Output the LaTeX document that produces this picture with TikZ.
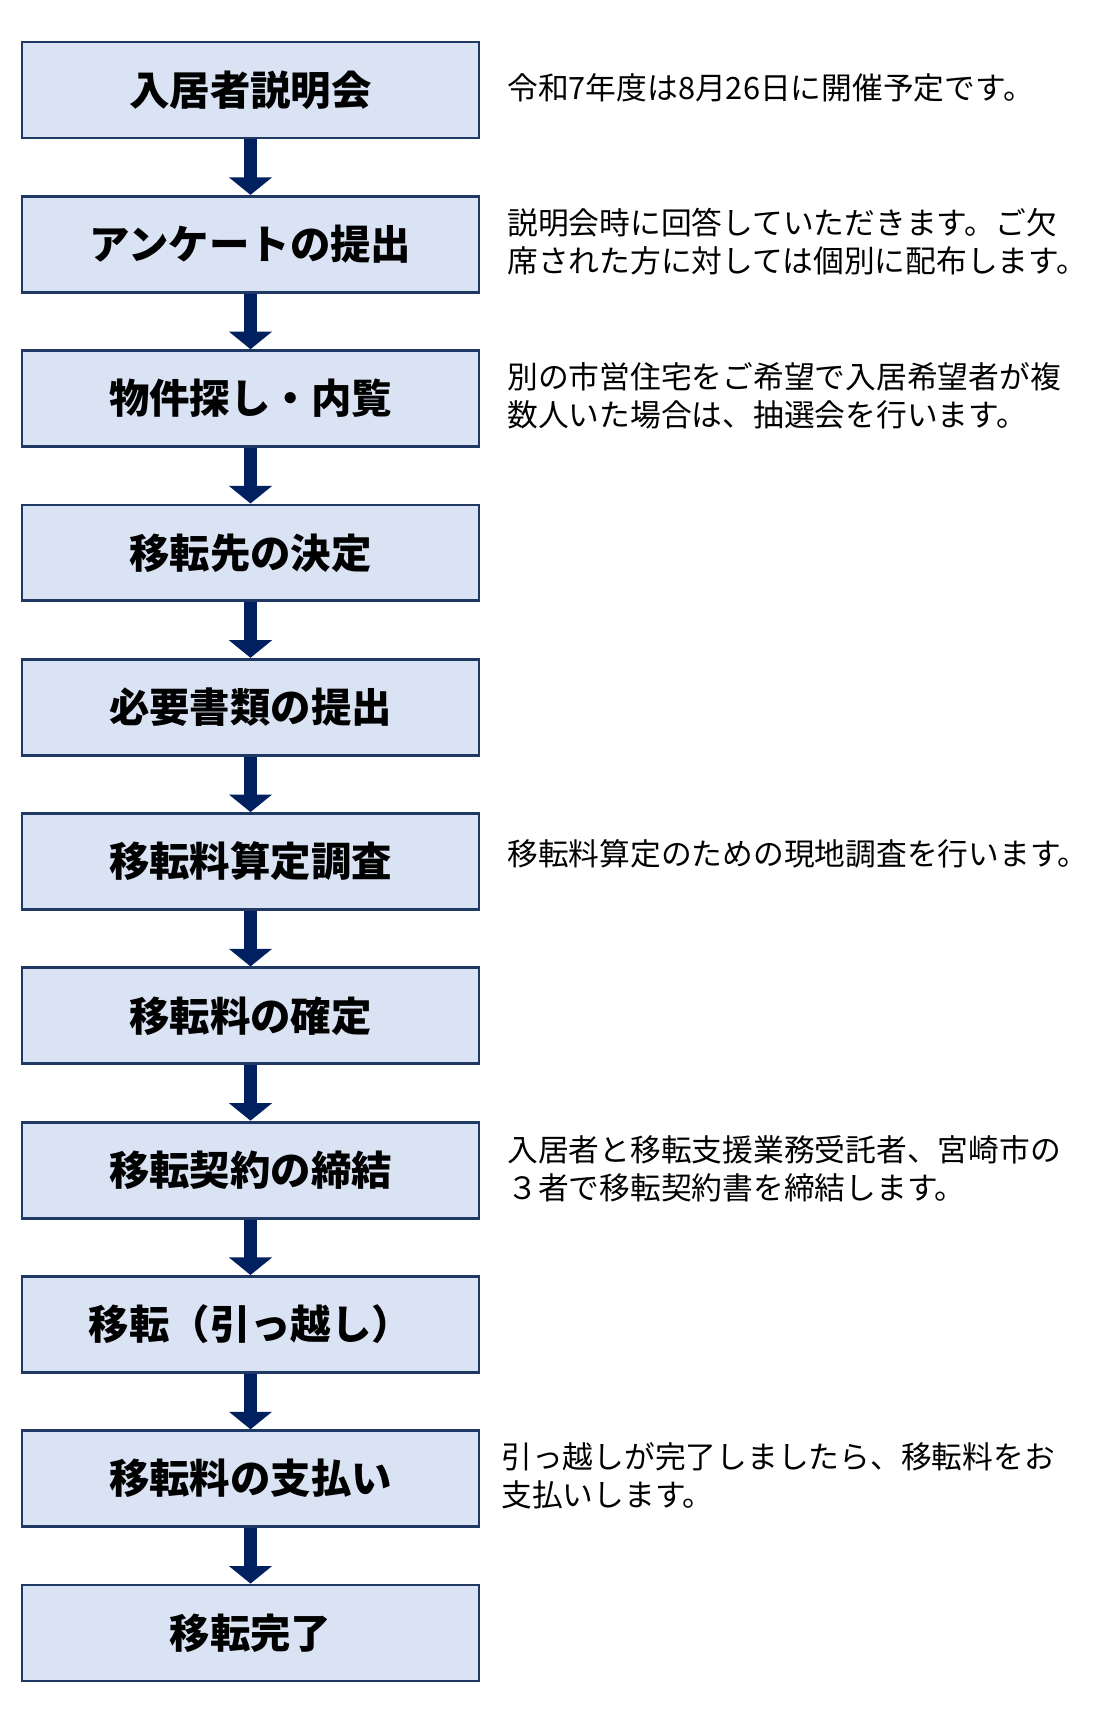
\documentclass[tikz,border=0pt]{standalone}
\usepackage{fontspec}
\setmainfont{Noto Sans CJK JP}
\usetikzlibrary{arrows.meta,positioning}
\definecolor{boxfill}{HTML}{DAE3F3}
\definecolor{navy}{HTML}{1F3864}
\definecolor{arrowc}{HTML}{002060}
\tikzset{
  stepbox/.style={draw=navy, line width=1.6pt, fill=boxfill, minimum width=9.14cm,
    minimum height=1.92cm, inner sep=0pt, font=\fontsize{23pt}{27pt}\selectfont\bfseries},
  notetext/.style={anchor=west, align=left, inner sep=0pt,
    font=\fontsize{17.5pt}{21.5pt}\selectfont},
  flowarrow/.style={draw=arrowc, line width=7pt, -{Triangle[width=24pt,length=10pt]}}
}
\begin{document}
\begin{tikzpicture}[x=0.02cm,y=-0.02cm]
\useasboundingbox (0,0) rectangle (1098,1724);
\foreach \i/\t in {1/入居者説明会,2/アンケートの提出,3/物件探し・内覧,4/移転先の決定,
  5/必要書類の提出,6/移転料算定調査,7/移転料の確定,8/移転契約の締結,
  9/移転（引っ越し）,10/移転料の支払い,11/移転完了}
  \node[stepbox] (b\i) at (250.5,{90+(\i-1)*154.3}) {\t};
\foreach \i [evaluate=\i as \j using int(\i+1)] in {1,...,10}
  \draw[flowarrow] (b\i.south) -- (b\j.north);
% notes on the right
\node[notetext] (n1) at (507,88) {令和7年度は8月26日に開催予定です。};
\node[notetext] (n2) at (507,242) {説明会時に回答していただきます。ご欠\\席された方に対しては個別に配布します。};
\node[notetext] (n3) at (507,396) {別の市営住宅をご希望で入居希望者が複\\数人いた場合は、抽選会を行います。};
\node[notetext] (n6) at (507,854) {移転料算定のための現地調査を行います。};
\node[notetext] (n8) at (507,1169) {入居者と移転支援業務受託者、宮崎市の\\３者で移転契約書を締結します。};
\node[notetext] (n10) at (501,1476) {引っ越しが完了しましたら、移転料をお\\支払いします。};
\end{tikzpicture}
\end{document}
